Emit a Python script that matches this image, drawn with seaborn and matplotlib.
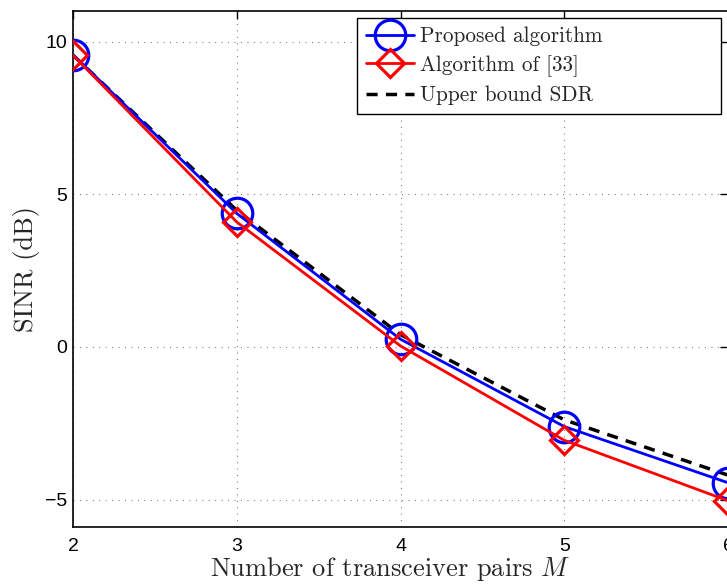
import matplotlib
matplotlib.use("Agg")
import matplotlib.pyplot as plt
import seaborn as sns
import pandas as pd

M = [2, 3, 4, 5, 6]
proposed = [9.57, 4.37, 0.25, -2.61, -4.45]
algo33 = [9.55, 4.09, 0.03, -3.06, -5.04]
upper_sdr = [9.55, 4.47, 0.40, -2.39, -4.20]
xticks = [2, 3, 4, 5, 6]
yticks = [-5, 0, 5, 10]

sns.set_style("white")
plt.rcParams["mathtext.fontset"] = "cm"
plt.rcParams["font.family"] = ["Liberation Sans", "DejaVu Sans"]

fig = plt.figure(figsize=(7.27, 5.85), dpi=100)
ax = fig.add_axes([73/727, 58/585, 655/727, 516/585])

df = pd.DataFrame({"M": M, "proposed": proposed, "algo33": algo33, "upper": upper_sdr})

sns.lineplot(data=df, x="M", y="proposed", ax=ax, color="#0000ff", lw=2,
             marker="o", markersize=22, markerfacecolor="none",
             markeredgecolor="#0000ff", markeredgewidth=2.3,
             label="Proposed algorithm", zorder=3)
sns.lineplot(data=df, x="M", y="algo33", ax=ax, color="#ff0000", lw=2,
             marker="D", markersize=14, markerfacecolor="none",
             markeredgecolor="#ff0000", markeredgewidth=2.3,
             label="Algorithm of [33]", zorder=4)
sns.lineplot(data=df, x="M", y="upper", ax=ax, color="black", lw=2.5,
             linestyle=(0, (3.2, 2.4)), label="Upper bound SDR", zorder=2)

ax.set_xlim(2, 6)
ax.set_ylim(-5.9, 11)
ax.set_xticks(xticks)
ax.set_yticks(yticks)
ax.set_yticklabels(["\u22125" if v < 0 else str(v) for v in yticks])
ax.tick_params(direction="in", top=True, right=True, length=6, width=1,
               labelsize=14, colors="black")
ax.tick_params(axis="x", pad=8)
ax.tick_params(axis="y", pad=4)
for s in ax.spines.values():
    s.set_color("black")
    s.set_linewidth(1.2)
ax.grid(True, linestyle=(0, (0.8, 5)), color="#666666", linewidth=0.8)

ax.set_xlabel("Number of transceiver pairs $M$", fontsize=19, family="cmr10")
ax.xaxis.set_label_coords((390 - 73) / 655, -(569 - 527) / 516, transform=ax.transAxes)
ax.xaxis.label.set_va("center")
ax.set_ylabel("SINR (dB)", fontsize=19, family="cmr10")
ax.yaxis.set_label_coords(-(73 - 26) / 655, 0.5, transform=ax.transAxes)
ax.yaxis.label.set_va("center")

leg = ax.legend(loc="upper left", mode="expand",
                bbox_to_anchor=((357 - 73) / 655, 0.804, (721 - 357) / 655, 1 - 7 / 516 - 0.804),
                prop={"family": "cmr10", "size": 15.3}, frameon=True,
                fancybox=False, edgecolor="black", framealpha=1,
                handlelength=2.3, borderaxespad=0, borderpad=0.4,
                labelspacing=0.42, handletextpad=0.25)
leg.get_frame().set_linewidth(1.0)

fig.savefig("out.png", dpi=100)
